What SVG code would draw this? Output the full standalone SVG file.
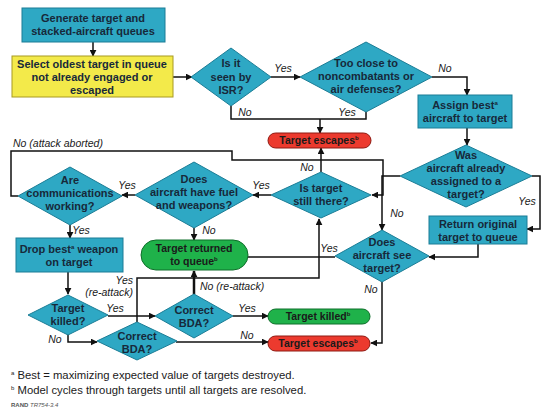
<svg xmlns="http://www.w3.org/2000/svg" width="550" height="413" viewBox="0 0 550 413">
<defs>
<marker id="ah" viewBox="0 0 10 10" refX="9" refY="5" markerWidth="7" markerHeight="7" markerUnits="userSpaceOnUse" orient="auto">
<path d="M0,0 L10,5 L0,10 z" fill="#111"/>
</marker>
<style>
.box{fill:#2ea8c4;stroke:#1b7d96;stroke-width:1}
.yel{fill:#f3ea4a;stroke:#a89a20;stroke-width:1}
.dia{fill:#2ea8c4;stroke:#1b7d96;stroke-width:1}
.grn{fill:#1fb24a;stroke:#0f6e2a;stroke-width:1}
.red{fill:#ec3a2e;stroke:#8e1a12;stroke-width:1}
.t{font-family:"Liberation Sans",Arial,sans-serif;font-size:11px;font-weight:bold;fill:#17293a;text-anchor:middle}
.tp{font-family:"Liberation Sans",Arial,sans-serif;font-size:10.5px;font-weight:bold;fill:#1a1a1a;text-anchor:middle}
.lb{font-family:"Liberation Sans",Arial,sans-serif;font-size:10.5px;font-style:italic;fill:#1a1a1a}
.fn{font-family:"Liberation Sans",Arial,sans-serif;font-size:11.3px;fill:#1a1a1a}
.c{fill:none;stroke:#111;stroke-width:1.5}
.ca{fill:none;stroke:#111;stroke-width:1.5;marker-end:url(#ah)}
</style>
</defs>
<rect width="550" height="413" fill="#fff"/>

<g id="connectors">
<path class="ca" d="M93,42 V56"/>
<path class="ca" d="M173,77 H192"/>
<path class="ca" d="M271,77 H300"/>
<path class="ca" d="M432,77 H467 V95"/>
<path class="ca" d="M467,128 V145"/>
<path class="ca" d="M532,176 H540 V229 H527"/>
<path class="ca" d="M478,244 V257 H429"/>
<path class="ca" d="M400,176 H382 V230"/>
<path class="ca" d="M382,282 V343 H371"/>
<path class="c" d="M335,257 H248"/>
<path class="c" d="M231,106 V119 H366 V112"/>
<path class="ca" d="M320,119 V133"/>
<path class="ca" d="M321,172 V148"/>
<path class="ca" d="M18,196 H11 V151 H232 V160 H383 V195 H372"/>
<path class="ca" d="M135,195 H122"/>
<path class="ca" d="M271,195 H253"/>
<path class="ca" d="M70,225 V238"/>
<path class="ca" d="M194,228 V240"/>
<path class="ca" d="M68,272 V294"/>
<path class="ca" d="M108,316 H155"/>
<path class="ca" d="M233,316 H268"/>
<path class="ca" d="M68,334 V342 H97"/>
<path class="ca" d="M176,342 H268"/>
<path class="ca" d="M137,322 V278 H319 V219"/>
<path class="ca" d="M194,294 V271" style="stroke-width:2.5"/>
<text class="lb" x="283" y="72" text-anchor="middle">Yes</text>
<text class="lb" x="445" y="72" text-anchor="middle">No</text>
<text class="lb" x="527" y="205" text-anchor="middle">Yes</text>
<text class="lb" x="397" y="217" text-anchor="middle">No</text>
<text class="lb" x="371" y="293" text-anchor="middle">No</text>
<text class="lb" x="329" y="252" text-anchor="middle">Yes</text>
<text class="lb" x="245" y="116" text-anchor="middle">No</text>
<text class="lb" x="347" y="116" text-anchor="middle">Yes</text>
<text class="lb" x="307" y="171" text-anchor="middle">No</text>
<text class="lb" x="13" y="147">No (attack aborted)</text>
<text class="lb" x="127" y="189" text-anchor="middle">Yes</text>
<text class="lb" x="261" y="189" text-anchor="middle">Yes</text>
<text class="lb" x="81" y="234" text-anchor="middle">Yes</text>
<text class="lb" x="209" y="234" text-anchor="middle">No</text>
<text class="lb" x="115" y="312" text-anchor="middle">Yes</text>
<text class="lb" x="247" y="312" text-anchor="middle">Yes</text>
<text class="lb" x="55" y="343" text-anchor="middle">No</text>
<text class="lb" x="247" y="339" text-anchor="middle">No</text>
<text class="lb" x="133" y="284" text-anchor="end">Yes</text>
<text class="lb" x="133" y="296" text-anchor="end">(re-attack)</text>
<text class="lb" x="200" y="290">No (re-attack)</text>
</g>

<g id="generate">
<rect class="box" x="22" y="8" width="143" height="34"/>
<text class="t" x="93" y="22">Generate target and</text>
<text class="t" x="93" y="35">stacked-aircraft queues</text>
</g>
<g id="select">
<rect class="yel" x="12" y="56" width="161" height="41"/>
<text class="t" x="92" y="68">Select oldest target in queue</text>
<text class="t" x="92" y="81">not already engaged or</text>
<text class="t" x="92" y="94">escaped</text>
</g>
<g id="isr">
<polygon class="dia" points="231,48 271,77 231,106 191,77"/>
<text class="t" x="231" y="67">Is it</text>
<text class="t" x="231" y="81">seen by</text>
<text class="t" x="231" y="94">ISR?</text>
</g>
<g id="tooclose">
<polygon class="dia" points="366,42 432,77 366,112 300,77"/>
<text class="t" x="366" y="67">Too close to</text>
<text class="t" x="366" y="80">noncombatants or</text>
<text class="t" x="366" y="93">air defenses?</text>
</g>
<g id="assign">
<rect class="box" x="418" y="95" width="94" height="33"/>
<text class="t" x="465" y="109">Assign best<tspan font-size="6" dy="-4">a</tspan></text>
<text class="t" x="465" y="122">aircraft to target</text>
</g>
<g id="wasassigned">
<polygon class="dia" points="466,145 532,176 466,207 400,176"/>
<text class="t" x="466" y="159">Was</text>
<text class="t" x="466" y="172">aircraft already</text>
<text class="t" x="466" y="185">assigned to a</text>
<text class="t" x="466" y="198">target?</text>
</g>
<g id="returnorig">
<rect class="box" x="429" y="216" width="98" height="28"/>
<text class="t" x="478" y="228">Return original</text>
<text class="t" x="478" y="241">target to queue</text>
</g>
<g id="seetarget">
<polygon class="dia" points="382,230 429,256 382,282 335,256"/>
<text class="t" x="382" y="246">Does</text>
<text class="t" x="382" y="259">aircraft see</text>
<text class="t" x="382" y="272">target?</text>
</g>
<g id="escapes1">
<rect class="red" x="268" y="133" width="103" height="15" rx="7.5"/>
<text class="tp" x="319" y="144">Target escapes<tspan font-size="6" dy="-4">b</tspan></text>
</g>
<g id="stillthere">
<polygon class="dia" points="321,172 371,195 321,218 271,195"/>
<text class="t" x="321" y="192">Is target</text>
<text class="t" x="321" y="205">still there?</text>
</g>
<g id="fuel">
<polygon class="dia" points="194,162 253,195 194,228 135,195"/>
<text class="t" x="194" y="183">Does</text>
<text class="t" x="194" y="196">aircraft have fuel</text>
<text class="t" x="194" y="209">and weapons?</text>
</g>
<g id="comms">
<polygon class="dia" points="70,167 122,196 70,225 18,196"/>
<text class="t" x="70" y="184">Are</text>
<text class="t" x="70" y="197">communications</text>
<text class="t" x="70" y="210">working?</text>
</g>
<g id="returned">
<rect class="grn" x="141" y="240" width="107" height="30" rx="15"/>
<text class="tp" x="194" y="252">Target returned</text>
<text class="tp" x="194" y="265">to queue<tspan font-size="6" dy="-4">b</tspan></text>
</g>
<g id="drop">
<rect class="box" x="16" y="238" width="107" height="34"/>
<text class="t" x="69" y="253">Drop best<tspan font-size="6" dy="-4">a</tspan><tspan dy="4"> weapon</tspan></text>
<text class="t" x="69" y="266">on target</text>
</g>
<g id="killedq">
<polygon class="dia" points="68,295 108,315 68,335 28,315"/>
<text class="t" x="68" y="312">Target</text>
<text class="t" x="68" y="325">killed?</text>
</g>
<g id="bda1">
<polygon class="dia" points="194,294 233,316 194,338 155,316"/>
<text class="t" x="194" y="314">Correct</text>
<text class="t" x="194" y="327">BDA?</text>
</g>
<g id="bda2">
<polygon class="dia" points="137,322 177,341 137,360 97,341"/>
<text class="t" x="137" y="340">Correct</text>
<text class="t" x="137" y="353">BDA?</text>
</g>
<g id="killed">
<rect class="grn" x="268" y="309" width="102" height="15" rx="7.5"/>
<text class="tp" x="318" y="320">Target killed<tspan font-size="6" dy="-4">b</tspan></text>
</g>
<g id="escapes2">
<rect class="red" x="268" y="336" width="102" height="15" rx="7.5"/>
<text class="tp" x="318" y="347">Target escapes<tspan font-size="6" dy="-4">b</tspan></text>
</g>

<g id="notes">
<text class="fn" x="11" y="379"><tspan font-size="6" dy="-4">a</tspan><tspan dy="4"> Best = maximizing expected value of targets destroyed.</tspan></text>
<text class="fn" x="11" y="394"><tspan font-size="6" dy="-4">b</tspan><tspan dy="4"> Model cycles through targets until all targets are resolved.</tspan></text>
<text x="11" y="407" font-family="'Liberation Sans',sans-serif" font-size="6" fill="#555"><tspan font-weight="bold">RAND</tspan> <tspan font-style="italic">TR754-3.4</tspan></text>
</g>
</svg>
